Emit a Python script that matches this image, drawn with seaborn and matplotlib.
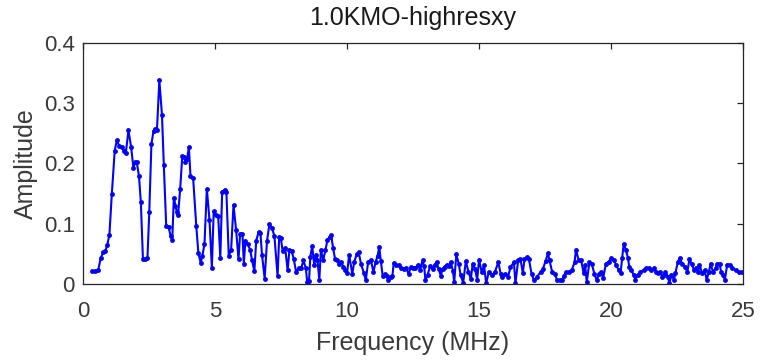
import matplotlib
matplotlib.use("Agg")
import matplotlib.pyplot as plt
import seaborn as sns
import pandas as pd

# Spectrum samples: frequency (MHz) and amplitude
freq_mhz = [
    0.33, 0.45, 0.58, 0.67, 0.77, 0.84, 0.92, 1.00, 1.09, 1.20,
    1.28, 1.37, 1.46, 1.55, 1.62, 1.72, 1.82, 1.91, 1.97, 2.03,
    2.12, 2.19, 2.27, 2.36, 2.44, 2.51, 2.59, 2.67, 2.73, 2.80,
    2.89, 2.99, 3.06, 3.15, 3.24, 3.32, 3.38, 3.44, 3.50, 3.55,
    3.60, 3.68, 3.76, 3.83, 3.88, 3.94, 4.01, 4.07, 4.17, 4.29,
    4.37, 4.46, 4.52, 4.60, 4.69, 4.79, 4.88, 4.95, 5.03, 5.12,
    5.20, 5.27, 5.36, 5.43, 5.52, 5.61, 5.70, 5.80, 5.89, 5.95,
    6.04, 6.09, 6.15, 6.24, 6.33, 6.40, 6.49, 6.56, 6.65, 6.72,
    6.78, 6.88, 6.97, 7.06, 7.16, 7.25, 7.37, 7.43, 7.49, 7.56,
    7.66, 7.75, 7.82, 7.90, 7.98, 8.07, 8.17, 8.26, 8.35, 8.44,
    8.49, 8.56, 8.61, 8.68, 8.76, 8.82, 8.88, 8.95, 9.01, 9.10,
    9.18, 9.26, 9.34, 9.40, 9.47, 9.55, 9.63, 9.70, 9.77, 9.86,
    9.93, 10.00, 10.08, 10.20, 10.27, 10.36, 10.44, 10.53, 10.64, 10.71,
    10.80, 10.90, 11.00, 11.08, 11.16, 11.22, 11.28, 11.35, 11.43, 11.50,
    11.57, 11.65, 11.72, 11.77, 11.86, 11.96, 12.05, 12.14, 12.23, 12.33,
    12.42, 12.50, 12.58, 12.68, 12.77, 12.86, 12.92, 12.97, 13.05, 13.15,
    13.25, 13.32, 13.39, 13.47, 13.55, 13.62, 13.70, 13.78, 13.86, 13.93,
    14.01, 14.06, 14.14, 14.23, 14.30, 14.40, 14.50, 14.60, 14.69, 14.76,
    14.85, 14.93, 15.00, 15.10, 15.19, 15.27, 15.37, 15.50, 15.60, 15.73,
    15.82, 15.88, 15.98, 16.10, 16.19, 16.32, 16.38, 16.48, 16.57, 16.66,
    16.72, 16.82, 16.89, 16.99, 17.08, 17.20, 17.33, 17.42, 17.52, 17.61,
    17.67, 17.77, 17.87, 17.96, 18.05, 18.15, 18.21, 18.31, 18.40, 18.52,
    18.62, 18.67, 18.77, 18.87, 18.96, 19.02, 19.08, 19.18, 19.27, 19.37,
    19.46, 19.54, 19.62, 19.70, 19.81, 19.91, 20.01, 20.10, 20.19, 20.29,
    20.36, 20.42, 20.48, 20.57, 20.64, 20.69, 20.77, 20.86, 20.92, 21.02,
    21.11, 21.24, 21.33, 21.43, 21.53, 21.62, 21.71, 21.78, 21.87, 21.93,
    22.00, 22.06, 22.16, 22.21, 22.29, 22.38, 22.44, 22.53, 22.61, 22.69,
    22.80, 22.89, 22.97, 23.05, 23.14, 23.23, 23.30, 23.35, 23.45, 23.55,
    23.62, 23.71, 23.77, 23.86, 23.96, 24.02, 24.11, 24.17, 24.24, 24.31,
    24.40, 24.50, 24.59, 24.72, 24.84, 24.97,
]
amplitude = [
    0.021, 0.021, 0.024, 0.043, 0.053, 0.054, 0.065, 0.082, 0.149, 0.221,
    0.239, 0.229, 0.227, 0.221, 0.217, 0.255, 0.228, 0.192, 0.202, 0.203,
    0.179, 0.136, 0.041, 0.041, 0.043, 0.120, 0.232, 0.254, 0.258, 0.255,
    0.338, 0.281, 0.198, 0.097, 0.095, 0.079, 0.073, 0.143, 0.130, 0.120,
    0.114, 0.158, 0.213, 0.210, 0.203, 0.208, 0.227, 0.180, 0.176, 0.096,
    0.051, 0.035, 0.047, 0.066, 0.158, 0.106, 0.027, 0.121, 0.115, 0.113,
    0.043, 0.153, 0.156, 0.153, 0.047, 0.057, 0.131, 0.089, 0.041, 0.083,
    0.083, 0.034, 0.071, 0.066, 0.057, 0.040, 0.021, 0.072, 0.086, 0.084,
    0.048, 0.009, 0.072, 0.099, 0.093, 0.079, 0.013, 0.078, 0.077, 0.055,
    0.059, 0.023, 0.057, 0.055, 0.042, 0.020, 0.027, 0.026, 0.039, 0.026,
    0.004, 0.005, 0.045, 0.063, 0.031, 0.048, 0.040, 0.007, 0.056, 0.040,
    0.056, 0.073, 0.078, 0.081, 0.060, 0.041, 0.040, 0.033, 0.037, 0.029,
    0.024, 0.018, 0.048, 0.017, 0.036, 0.049, 0.053, 0.033, 0.018, 0.006,
    0.037, 0.040, 0.020, 0.036, 0.047, 0.062, 0.038, 0.014, 0.016, 0.013,
    0.007, 0.012, 0.014, 0.035, 0.031, 0.031, 0.026, 0.025, 0.027, 0.017,
    0.028, 0.026, 0.027, 0.031, 0.024, 0.039, 0.030, 0.006, 0.015, 0.030,
    0.025, 0.032, 0.036, 0.025, 0.014, 0.025, 0.029, 0.032, 0.030, 0.036,
    0.022, 0.003, 0.049, 0.034, 0.015, 0.002, 0.038, 0.020, 0.008, 0.034,
    0.025, 0.007, 0.040, 0.020, 0.031, 0.001, 0.020, 0.015, 0.020, 0.036,
    0.017, 0.012, 0.017, 0.012, 0.028, 0.036, 0.001, 0.039, 0.041, 0.018,
    0.041, 0.044, 0.041, 0.017, 0.006, 0.012, 0.020, 0.025, 0.038, 0.051,
    0.039, 0.020, 0.017, 0.006, 0.006, 0.006, 0.014, 0.020, 0.020, 0.024,
    0.036, 0.057, 0.040, 0.039, 0.018, 0.031, 0.003, 0.036, 0.033, 0.017,
    0.006, 0.017, 0.020, 0.010, 0.034, 0.037, 0.043, 0.040, 0.032, 0.023,
    0.018, 0.043, 0.067, 0.056, 0.043, 0.029, 0.023, 0.015, 0.007, 0.015,
    0.020, 0.023, 0.026, 0.026, 0.023, 0.026, 0.020, 0.018, 0.020, 0.012,
    0.015, 0.020, 0.012, 0.001, 0.015, 0.007, 0.018, 0.037, 0.043, 0.034,
    0.029, 0.020, 0.041, 0.034, 0.023, 0.026, 0.020, 0.032, 0.018, 0.023,
    0.007, 0.020, 0.034, 0.020, 0.026, 0.034, 0.034, 0.020, 0.015, 0.007,
    0.032, 0.032, 0.026, 0.023, 0.020, 0.020,
]

x_ticks = [0, 5, 10, 15, 20, 25]
y_ticks = [0, 0.1, 0.2, 0.3, 0.4]
y_tick_labels = ["0", "0.1", "0.2", "0.3", "0.4"]

title_text = "1.0KMO-highresxy"
x_label = "Frequency (MHz)"
y_label = "Amplitude"

df = pd.DataFrame({"freq": freq_mhz, "amp": amplitude})

sns.set_style("white")
plt.rcParams["font.family"] = ["Liberation Sans", "DejaVu Sans"]

ink = "#3a3a3a"
fig = plt.figure(figsize=(7.61, 3.64), dpi=100)
ax = fig.add_axes([0.1091, 0.2198, 0.8673, 0.6621])

sns.lineplot(
    data=df, x="freq", y="amp", ax=ax,
    color="#0000ff", linewidth=1.5,
    marker="o", markersize=3.5, markeredgewidth=0,
)

ax.set_xlim(0, 25)
ax.set_ylim(0, 0.4)
ax.set_xticks(x_ticks)
ax.set_xticklabels([str(t) for t in x_ticks])
ax.set_yticks(y_ticks)
ax.set_yticklabels(y_tick_labels)

for side in ["left", "right", "top", "bottom"]:
    ax.spines[side].set_visible(True)
    ax.spines[side].set_color("#262626")
    ax.spines[side].set_linewidth(0.9)

ax.tick_params(axis="both", which="major", direction="in", length=4,
               width=0.9, color="#262626", labelcolor=ink, labelsize=16,
               top=True, right=True)
ax.tick_params(axis="x", pad=12)
ax.tick_params(axis="y", pad=6)

ax.set_title(title_text, fontsize=18, color="#1a1a1a", pad=13)
ax.set_xlabel(x_label, fontsize=18, color=ink, labelpad=7)
ax.set_ylabel(y_label, fontsize=18, color=ink, labelpad=4)

fig.savefig("out.png", dpi=100)
